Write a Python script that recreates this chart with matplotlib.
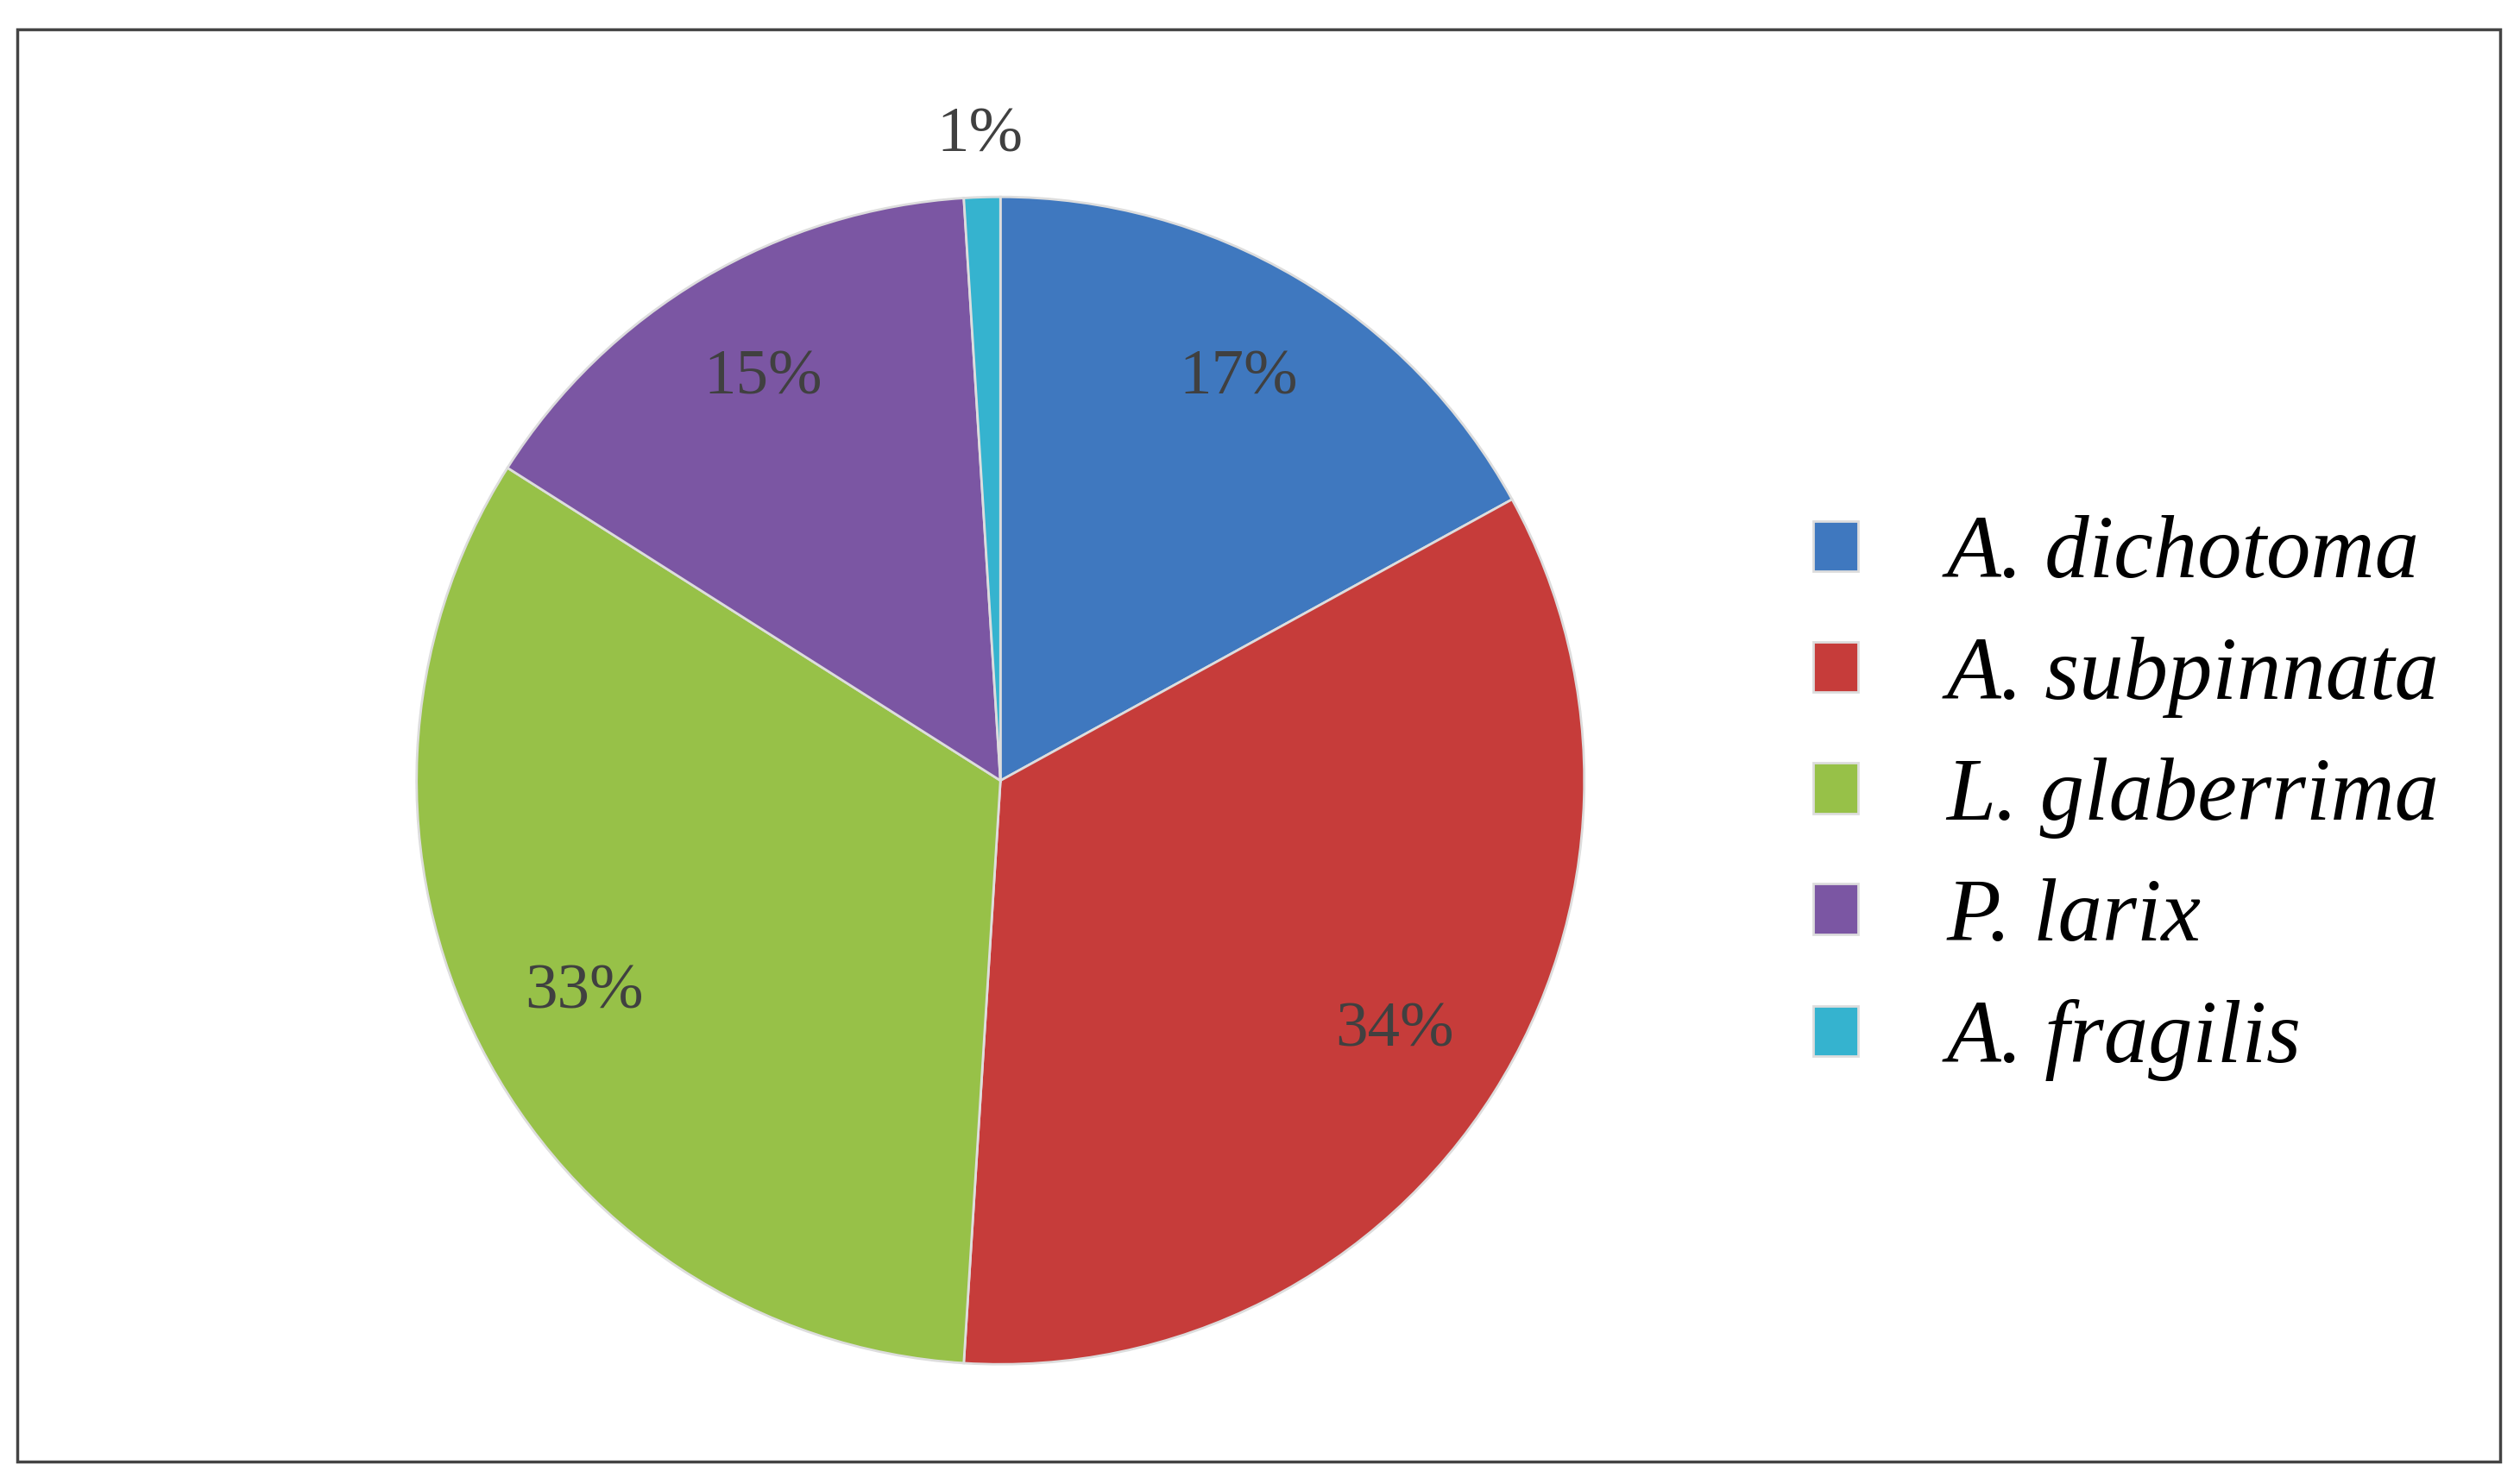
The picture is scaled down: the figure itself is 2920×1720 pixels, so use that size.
import matplotlib
matplotlib.use("Agg")
import matplotlib.pyplot as plt
from matplotlib.patches import Rectangle

species = ["A. dichotoma", "A. subpinnata", "L. glaberrima", "P. larix", "A. fragilis"]
values = [17, 34, 33, 15, 1]
colors = ["#3f78bf", "#c63c3a", "#97c148", "#7b56a3", "#35b3cf"]

fig = plt.figure(figsize=(29.2, 17.2), dpi=100)
fig.patches.append(Rectangle((0.007, 0.015), 0.985, 0.965, transform=fig.transFigure,
                             fill=False, edgecolor="#444444", linewidth=2.5))
ax = fig.add_axes([0.163, 0.074, 0.468, 0.80])
wedges, texts, autotexts = ax.pie(values, colors=colors, startangle=90, counterclock=False,
                                  autopct="%1.0f%%", pctdistance=0.8,
                                  wedgeprops=dict(edgecolor="#dddddd", linewidth=2),
                                  textprops=dict(family="Liberation Serif", fontsize=54, color="#404040"))
x, y = autotexts[-1].get_position()
autotexts[-1].set_position((x * 1.38, y * 1.38))
ax.set_xlim(-1.01, 1.01)
ax.set_ylim(-1.01, 1.01)
ax.set_aspect("equal")

leg = fig.legend(wedges, species, loc="center left", bbox_to_anchor=(0.688, 0.462),
                 frameon=False, handlelength=0.5, handleheight=0.5, handletextpad=1.0,
                 labelspacing=0.45,
                 prop=dict(family="Liberation Serif", style="italic", size=74))
fig.savefig("out.png", dpi=100, facecolor="white")
